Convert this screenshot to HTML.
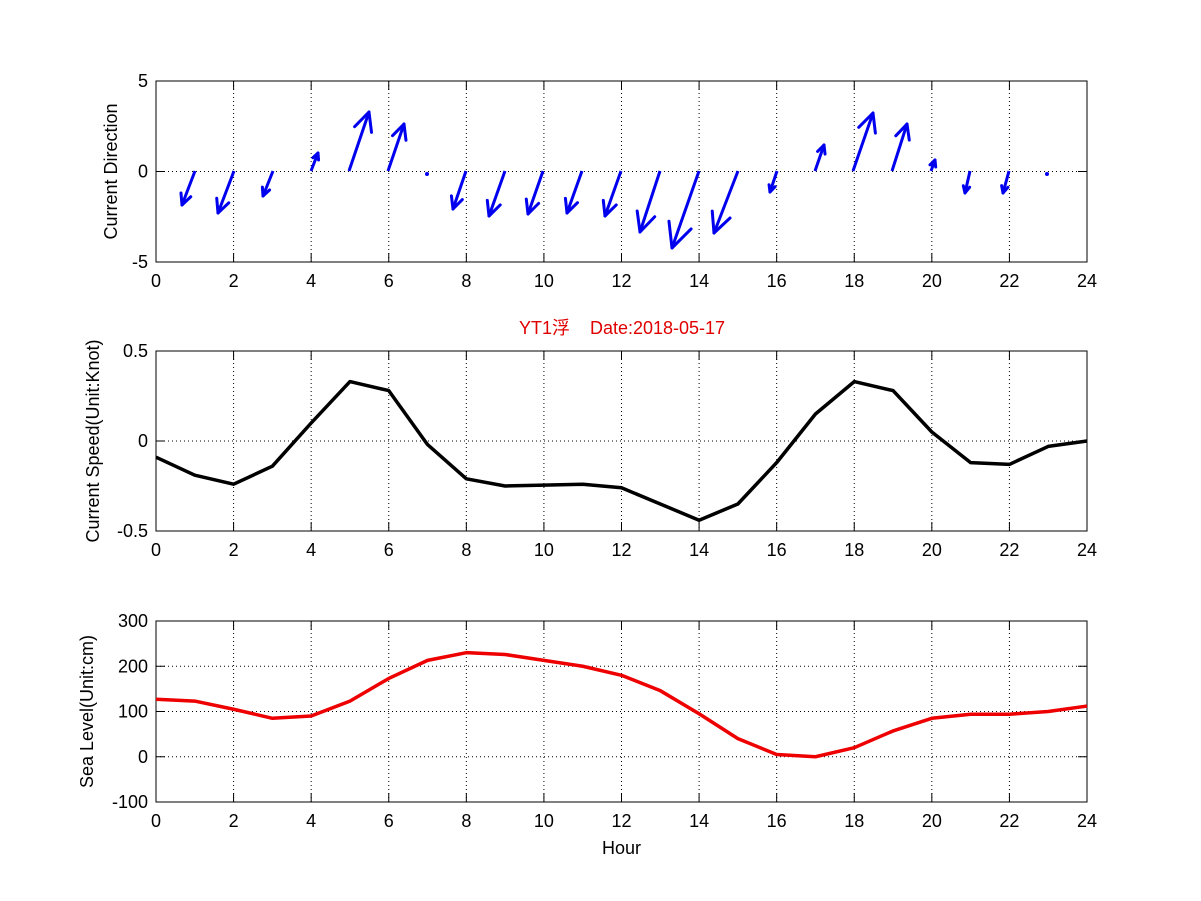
<!DOCTYPE html>
<html><head><meta charset="utf-8"><style>body{margin:0;background:#fff}svg{display:block}text{font-family:"Liberation Sans","Noto Sans CJK SC",sans-serif;font-size:18px}</style></head><body>
<svg width="1201" height="901" viewBox="0 0 1201 901" xmlns="http://www.w3.org/2000/svg">
<rect width="1201" height="901" fill="#fff"/>
<g id="all"></g>
</svg>
<script>
const NS="http://www.w3.org/2000/svg",g=document.getElementById("all");
function el(t,a,txt){const e=document.createElementNS(NS,t);for(const k in a)e.setAttribute(k,a[k]);if(txt!=null)e.textContent=txt;g.appendChild(e);return e;}
const X0=156,X1=1087,xs=h=>X0+h*(X1-X0)/24;
function axes(top,bot,yt,ymin,ymax,ylab,lx,xlab){
 const ys=v=>bot-(v-ymin)/(ymax-ymin)*(bot-top);
 for(let h=2;h<24;h+=2)el("line",{x1:xs(h),x2:xs(h),y1:top,y2:bot,stroke:"#000","stroke-width":1,"stroke-dasharray":"1,3"});
 yt.forEach(v=>{if(v>ymin&&v<ymax)el("line",{x1:X0,x2:X1,y1:ys(v),y2:ys(v),stroke:"#000","stroke-width":1,"stroke-dasharray":"1,3"});});
 el("rect",{x:X0,y:top,width:X1-X0,height:bot-top,fill:"none",stroke:"#000","stroke-width":1});
 for(let h=0;h<=24;h+=2){el("line",{x1:xs(h),x2:xs(h),y1:bot,y2:bot-9,stroke:"#000"});el("line",{x1:xs(h),x2:xs(h),y1:top,y2:top+9,stroke:"#000"});
  el("text",{x:xs(h),y:bot+25,"text-anchor":"middle"},String(h));}
 yt.forEach(v=>{el("line",{x1:X0,x2:X0+9,y1:ys(v),y2:ys(v),stroke:"#000"});el("line",{x1:X1,x2:X1-9,y1:ys(v),y2:ys(v),stroke:"#000"});
  el("text",{x:148,y:ys(v)+6,"text-anchor":"end"},String(v));});
 const cy=(top+bot)/2;el("text",{x:0,y:0,"text-anchor":"middle",transform:`translate(${lx},${cy}) rotate(-90)`},ylab);
 if(xlab)el("text",{x:(X0+X1)/2,y:bot+52,"text-anchor":"middle"},xlab);
 return ys;}
axes(81,262,[-5,0,5],-5,5,"Current Direction",117);
const arr=[[195,182,205],[234,218,213],[273,263,196],[311,318,153],[349,369,112],[388,404,124],[427,427,173],[466,453,209],[505,489,216],[543,528,214],[582,567,213],[621,605,216],[660,640,232],[699,672,248],[738,714,233],[777,770,192],[815,824,145],[853,873,113],[892,907,124],[931,935,160],[970,965,193],[1009,1003,193],[1047,1047,173]];
arr.forEach(([x0,x1,y1])=>{const y0=171,dx=x1-x0,dy=y1-y0,L=Math.hypot(dx,dy);
 if(L<4){el("circle",{cx:x0,cy:174,r:2,fill:"#0000ee"});return;}
 el("line",{x1:x0,y1:y0,x2:x1,y2:y1,stroke:"#0000ee","stroke-width":3});
 const a=Math.atan2(dy,dx),hl=Math.max(0.33*L,7);
 [0.45,-0.45].forEach(s=>{el("line",{x1:x1,y1:y1,x2:x1-hl*Math.cos(a+s),y2:y1-hl*Math.sin(a+s),stroke:"#0000ee","stroke-width":3,"stroke-linecap":"round"});});});
el("text",{x:622,y:334,"text-anchor":"middle",fill:"#e00000","font-size":"20"},"YT1浮\u00a0\u00a0\u00a0\u00a0Date:2018-05-17");
const ys2=axes(351,531,[-0.5,0,0.5],-0.5,0.5,"Current Speed(Unit:Knot)",99);
const sp=[-0.09,-0.19,-0.24,-0.14,0.1,0.33,0.28,-0.02,-0.21,-0.25,-0.245,-0.24,-0.26,-0.35,-0.44,-0.35,-0.12,0.15,0.33,0.28,0.05,-0.12,-0.13,-0.03,0];
el("polyline",{points:sp.map((v,i)=>xs(i)+","+ys2(v)).join(" "),fill:"none",stroke:"#000","stroke-width":3.5,"stroke-linejoin":"round"});
const ys3=axes(621,802,[-100,0,100,200,300],-100,300,"Sea Level(Unit:cm)",93,"Hour");
const sl=[127,123,105,85,90,123,173,213,230,226,213,200,180,146,95,40,5,0,20,57,85,94,94,100,112];
el("polyline",{points:sl.map((v,i)=>xs(i)+","+ys3(v)).join(" "),fill:"none",stroke:"#ee0000","stroke-width":3.5,"stroke-linejoin":"round"});
</script>
</body></html>
